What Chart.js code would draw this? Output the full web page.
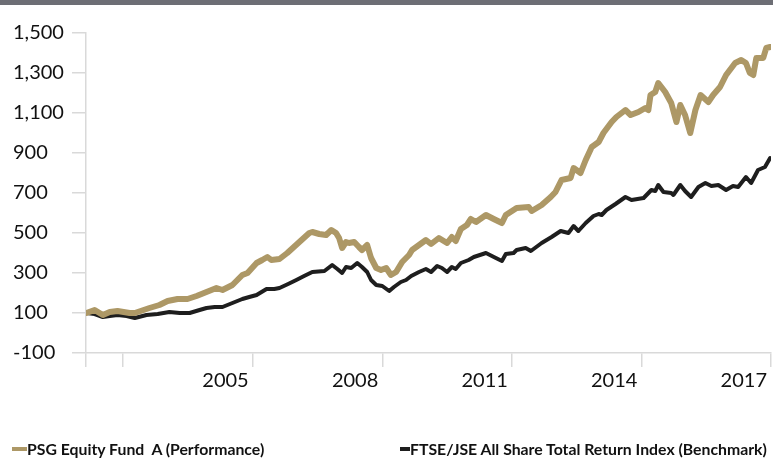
<!DOCTYPE html>
<html>
<head>
<meta charset="utf-8">
<script src="https://cdn.jsdelivr.net/npm/chart.js@4.4.1/dist/chart.umd.min.js"></script>
<style>
  html, body { margin: 0; padding: 0; background: #fff; }
  #wrap { position: relative; width: 773px; height: 462px; overflow: hidden; }
  #topBar { position: absolute; left: 0; top: 0; width: 773px; height: 5px; background: #6d6e75; }
  .legendItem { position: absolute; top: 439px; font: bold 15.8px Lato, sans-serif; color: #111; white-space: pre; }
  .legendItem i { position: absolute; top: 8px; height: 4px; }
</style>
</head>
<body>
<div id="wrap">
  <canvas id="perfChart" width="773" height="462"></canvas>
  <div id="topBar"></div>
  <div id="legend"></div>
</div>
<script>
// SERIES NAMES / COLOURS
// ======================
const seriesNames = ['PSG Equity Fund  A (Performance)', 'FTSE/JSE All Share Total Return Index (Benchmark)'];
const seriesColors = ['#ad9866', '#1e1e1e'];

// PSG EQUITY FUND (decimal years / index value)
// ==============================================
const psgDates = [
  2002.15, 2002.34, 2002.53, 2002.69, 2002.87, 2003.15, 2003.27, 2003.61, 2003.84, 2004.03,
  2004.26, 2004.49, 2004.70, 2004.93, 2005.16, 2005.30, 2005.53, 2005.76, 2005.88, 2006.09,
  2006.22, 2006.34, 2006.43, 2006.62, 2006.80, 2007.08, 2007.31, 2007.38, 2007.54, 2007.70,
  2007.82, 2007.93, 2008.00, 2008.07, 2008.16, 2008.23, 2008.35, 2008.46, 2008.53, 2008.65,
  2008.74, 2008.86, 2008.97, 2009.09, 2009.20, 2009.32, 2009.46, 2009.62, 2009.69, 2009.85,
  2010.01, 2010.13, 2010.31, 2010.50, 2010.61, 2010.70, 2010.82, 2010.96, 2011.05, 2011.17,
  2011.40, 2011.58, 2011.77, 2011.86, 2012.11, 2012.39, 2012.46, 2012.69, 2012.90, 2013.01,
  2013.15, 2013.36, 2013.43, 2013.59, 2013.71, 2013.85, 2014.01, 2014.12, 2014.31, 2014.42,
  2014.63, 2014.75, 2014.93, 2015.09, 2015.16, 2015.21, 2015.32, 2015.39, 2015.55, 2015.69,
  2015.81, 2015.90, 2016.01, 2016.13, 2016.25, 2016.37, 2016.55, 2016.66, 2016.82, 2016.96,
  2017.17, 2017.31, 2017.42, 2017.51, 2017.59, 2017.66, 2017.82, 2017.89, 2017.98
];
const psgValues = [
  100, 115, 90, 105, 110, 100, 100, 125, 140, 160,
  170, 170, 185, 205, 225, 215, 240, 290, 300, 350,
  365, 380, 365, 370, 400, 455, 500, 505, 495, 490,
  515, 500, 475, 425, 455, 450, 455, 430, 415, 440,
  375, 325, 315, 325, 290, 305, 355, 390, 415, 440,
  465, 445, 475, 450, 480, 460, 520, 540, 570, 555,
  590, 570, 550, 590, 625, 630, 610, 640, 680, 705,
  765, 775, 825, 800, 865, 930, 955, 1000, 1055, 1080,
  1115, 1090, 1105, 1125, 1115, 1190, 1205, 1250, 1205, 1150,
  1055, 1140, 1090, 1000, 1115, 1190, 1155, 1190, 1230, 1290,
  1350, 1365, 1350, 1300, 1290, 1375, 1375, 1425, 1430
];

// BENCHMARK (decimal years / index value)
// =======================================
const benchDates = [
  2002.15, 2002.34, 2002.53, 2002.69, 2002.87, 2003.08, 2003.27, 2003.54, 2003.80, 2004.07,
  2004.31, 2004.54, 2004.77, 2004.93, 2005.12, 2005.30, 2005.53, 2005.76, 2005.92, 2006.09,
  2006.32, 2006.50, 2006.62, 2006.82, 2007.01, 2007.19, 2007.38, 2007.66, 2007.84, 2007.96,
  2008.07, 2008.16, 2008.28, 2008.42, 2008.53, 2008.65, 2008.74, 2008.86, 2009.00, 2009.16,
  2009.27, 2009.43, 2009.55, 2009.67, 2009.85, 2010.01, 2010.13, 2010.27, 2010.38, 2010.50,
  2010.61, 2010.70, 2010.82, 2011.00, 2011.12, 2011.40, 2011.63, 2011.77, 2011.86, 2012.04,
  2012.11, 2012.32, 2012.44, 2012.69, 2012.92, 2013.13, 2013.31, 2013.43, 2013.54, 2013.71,
  2013.89, 2014.01, 2014.08, 2014.19, 2014.40, 2014.63, 2014.77, 2015.05, 2015.23, 2015.32,
  2015.39, 2015.51, 2015.69, 2015.74, 2015.90, 2016.01, 2016.15, 2016.32, 2016.48, 2016.62,
  2016.78, 2016.96, 2017.12, 2017.24, 2017.42, 2017.54, 2017.70, 2017.86, 2017.98
];
const benchValues = [
  100, 95, 80, 85, 90, 85, 75, 90, 95, 105,
  100, 100, 115, 125, 130, 130, 150, 170, 180, 190,
  220, 220, 225, 245, 265, 285, 305, 310, 340, 320,
  300, 330, 325, 350, 330, 305, 265, 240, 235, 210,
  230, 255, 265, 285, 305, 320, 305, 335, 325, 305,
  330, 320, 350, 365, 380, 400, 375, 360, 395, 400,
  415, 425, 410, 450, 480, 510, 500, 535, 510, 550,
  585, 595, 590, 615, 645, 680, 665, 675, 715, 710,
  740, 705, 700, 690, 740, 710, 680, 730, 750, 735,
  740, 715, 735, 730, 780, 750, 815, 830, 875
];

// AXES
// ====
const yTicks = [-100, 100, 300, 500, 700, 900, 1100, 1300, 1500];
const xStart = 2002.14;
const xEnd = 2018.0;
const xTickMarks = [xStart, 2003, 2006, 2009, 2012, 2015, 2018];
const xLabelYears = [2005, 2008, 2011, 2014, 2017];
const xLabelShift = 0.37; // labels sit a bit left of each tick mark
const xLabelPositions = xLabelYears.map((y) => y + xLabelShift);

const AXIS_GREY = '#d9d9d9';
const FONT = { family: 'Lato, sans-serif', size: 20 };

const isLabelTick = (v) => xLabelPositions.some((p) => Math.abs(p - v) < 1e-6);

const ctx = document.getElementById('perfChart').getContext('2d');

const chart = new Chart(ctx, {
    type: 'line',
    data: {
        datasets: [
            {
                label: seriesNames[0],
                data: psgDates.map((d, i) => ({ x: d, y: psgValues[i] })),
                borderColor: seriesColors[0],
                backgroundColor: seriesColors[0],
                borderWidth: 6,
                pointRadius: 0,
                tension: 0,
                borderJoinStyle: 'round',
                borderCapStyle: 'round',
            },
            {
                label: seriesNames[1],
                data: benchDates.map((d, i) => ({ x: d, y: benchValues[i] })),
                borderColor: seriesColors[1],
                backgroundColor: seriesColors[1],
                borderWidth: 4,
                pointRadius: 0,
                tension: 0,
                borderJoinStyle: 'round',
                borderCapStyle: 'round',
            },
        ],
    },
    options: {
        responsive: false,
        animation: false,
        layout: {
            padding: { left: 13, right: 1, top: 33, bottom: 0 },
        },
        plugins: {
            legend: { display: false },
            tooltip: { enabled: false },
        },
        scales: {
            x: {
                type: 'linear',
                min: xStart,
                max: xEnd,
                afterBuildTicks: (scale) => {
                    scale.ticks = xTickMarks.concat(xLabelPositions).sort((a, b) => a - b)
                        .map((v) => ({ value: v }));
                },
                afterFit: (scale) => { scale.height = 109; },
                border: { color: AXIS_GREY, width: 1.5 },
                grid: {
                    drawOnChartArea: false,
                    tickLength: 14,
                    lineWidth: 1.5,
                    color: (c) => (c.tick && isLabelTick(c.tick.value) ? 'rgba(0,0,0,0)' : AXIS_GREY),
                },
                ticks: {
                    autoSkip: false,
                    maxRotation: 0,
                    padding: 2,
                    color: '#111',
                    font: FONT,
                    callback: (v) => {
                        const i = xLabelPositions.findIndex((p) => Math.abs(p - v) < 1e-6);
                        return i >= 0 ? String(xLabelYears[i]) : '';
                    },
                },
            },
            y: {
                min: -100,
                max: 1500,
                afterBuildTicks: (scale) => {
                    scale.ticks = yTicks.map((v) => ({ value: v }));
                },
                afterFit: (scale) => { scale.width = 73; },
                border: { color: AXIS_GREY, width: 1.5 },
                grid: {
                    drawOnChartArea: false,
                    tickLength: 14,
                    lineWidth: 1.5,
                    color: AXIS_GREY,
                },
                ticks: {
                    crossAlign: 'far',
                    color: '#111',
                    font: FONT,
                    callback: (v) => v.toLocaleString('en-US'),
                },
            },
        },
    },
});

// LEGEND (html, built from the datasets)
// ======================================
const legendX = [12, 400];
const markerW = [15, 10];
const legendEl = document.getElementById('legend');
chart.data.datasets.forEach((ds, i) => {
    const item = document.createElement('div');
    item.className = 'legendItem';
    item.style.left = legendX[i] + 'px';
    item.style.paddingLeft = markerW[i] + 'px';
    const mark = document.createElement('i');
    mark.style.left = '0px';
    mark.style.width = markerW[i] + 'px';
    mark.style.background = ds.borderColor;
    item.appendChild(mark);
    item.appendChild(document.createTextNode(ds.label));
    legendEl.appendChild(item);
});
</script>
</body>
</html>
